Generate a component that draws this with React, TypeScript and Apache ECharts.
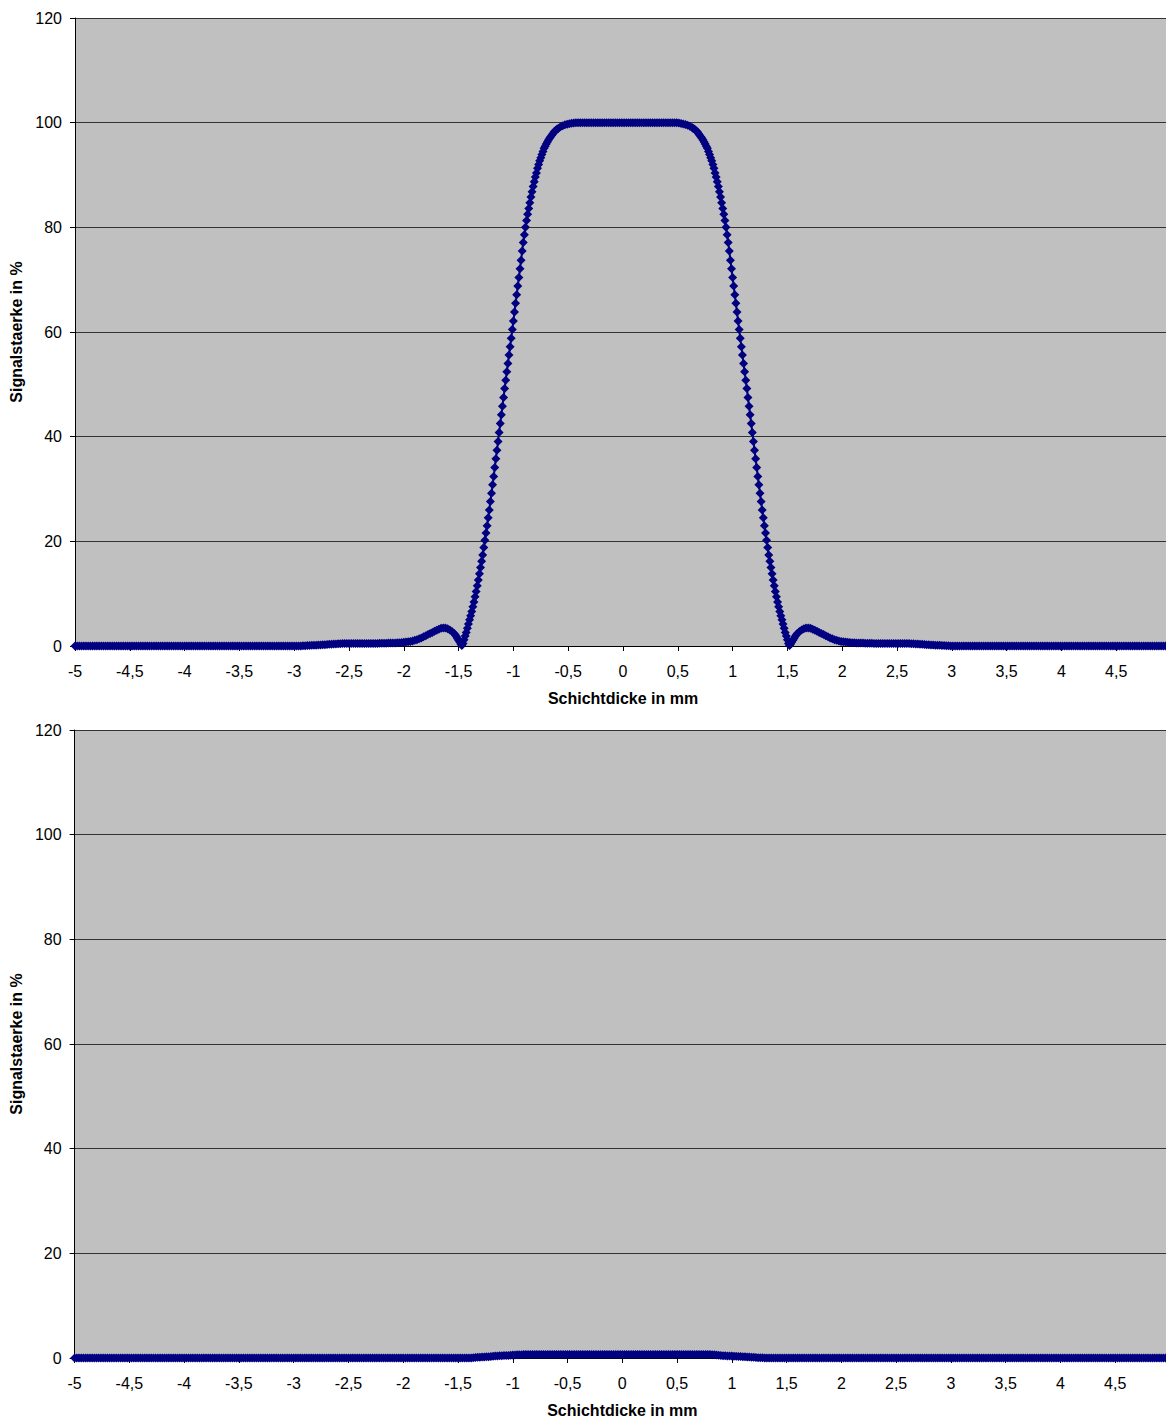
import React, { useEffect, useRef } from "react";
import * as echarts from "echarts";

// ---------- axis settings ----------
const X_MIN = -5;
const X_MAX = 5;
const X_INTERVAL = 0.5;
const Y_MIN = 0;
const Y_MAX = 120;
const Y_INTERVAL = 20;
const X_NAME = "Schichtdicke in mm";
const Y_NAME = "Signalstaerke in %";

// ---------- top chart data (segments: start x, step, values) ----------
// x = -5.00 .. -3.02 (step 0.02)
const topLeftTail = [
  0,0,0,0,0,0,0,0,0,0, 0,0,0,0,0,0,0,0,0,0,
  0,0,0,0,0,0,0,0,0,0, 0,0,0,0,0,0,0,0,0,0,
  0,0,0,0,0,0,0,0,0,0, 0,0,0,0,0,0,0,0,0,0,
  0,0,0,0,0,0,0,0,0,0, 0,0,0,0,0,0,0,0,0,0,
  0,0,0,0,0,0,0,0,0,0, 0,0,0,0,0,0,0,0,0,0,
];
// x = -3.00 .. -1.54 (step 0.02)
const topLeftSide = [
  0,0,0,0.02,0.04,0.06,0.08,0.1,0.12,0.14,
  0.16,0.18,0.2,0.23,0.26,0.29,0.32,0.35,0.38,0.4,
  0.42,0.44,0.46,0.48,0.49,0.5,0.5,0.5,0.5,0.5,
  0.5,0.5,0.5,0.5,0.5,0.5,0.5,0.5,0.5,0.51,
  0.52,0.53,0.54,0.55,0.56,0.57,0.59,0.61,0.63,0.66,
  0.7,0.75,0.81,0.88,0.97,1.08,1.21,1.37,1.55,1.75,
  1.96,2.18,2.4,2.6,2.8,3.0,3.2,3.38,3.46,3.42,
  3.28,3.05,2.75,2.4,
];
// x = -1.53 .. -0.59 (step 0.01)
const topLeftSlope = [
  2.1,1.8,1.45,1.1,0.75,0.4,0.1,0.5,1.2,1.9,
  2.6,3.4,4.2,5.0,5.8,6.6,7.5,8.4,9.4,10.4,
  11.5,12.6,13.8,15.0,16.2,17.4,18.8,20.2,21.6,23.0,
  24.5,26.0,27.6,29.2,30.8,32.4,34.1,35.8,37.4,39.1,
  40.8,42.5,44.2,45.8,47.5,49.2,50.8,52.4,54.0,55.6,
  57.2,58.8,60.5,62.1,63.8,65.5,67.1,68.8,70.4,72.1,
  73.7,75.5,77.1,78.6,80.0,81.3,82.5,83.6,84.7,85.8,
  86.8,87.8,88.7,89.6,90.4,91.3,92.0,92.7,93.3,93.9,
  94.5,95.1,95.5,95.9,96.3,96.7,97.0,97.3,97.6,97.9,
  98.2,98.4,98.6,98.8,98.9,
];
// x = -0.57 .. 0.63 (step 0.02)
const topPlateau = [
  99.2,99.4,99.6,99.7,99.8,99.9,99.95,
  100,100,100,100,100,100,100,100,100,100,
  100,100,100,100,100,100,100,100,100,100,
  100,100,100,100,100,100,100,100,100,100,
  100,100,100,100,100,100,100,100,100,100,
  100,100,100,100,100,100,
  99.97,99.92,99.85,99.75,99.65,99.5,99.3,99.1,
];
// x = 0.64 .. 1.58 (step 0.01)
const topRightSlope = [
  98.9,98.8,98.6,98.4,98.2,
  97.9,97.6,97.3,97.0,96.7,96.3,95.9,95.5,95.1,94.5,
  93.9,93.3,92.7,92.0,91.3,90.4,89.6,88.7,87.8,86.8,
  85.8,84.7,83.6,82.5,81.3,80.0,78.6,77.1,75.5,73.7,
  72.1,70.4,68.8,67.1,65.5,63.8,62.1,60.5,58.8,57.2,
  55.6,54.0,52.4,50.8,49.2,47.5,45.8,44.2,42.5,40.8,
  39.1,37.4,35.8,34.1,32.4,30.8,29.2,27.6,26.0,24.5,
  23.0,21.6,20.2,18.8,17.4,16.2,15.0,13.8,12.6,11.5,
  10.4,9.4,8.4,7.5,6.6,5.8,5.0,4.2,3.4,2.6,
  1.9,1.2,0.5,0.1,0.4,0.75,1.1,1.45,1.8,2.1,
];
// x = 1.59 .. 3.05 (step 0.02)
const topRightSide = [
  2.4,2.75,3.05,3.28,
  3.42,3.46,3.38,3.2,3.0,2.8,2.6,2.4,2.18,1.96,
  1.75,1.55,1.37,1.21,1.08,0.97,0.88,0.81,0.75,0.7,
  0.66,0.63,0.61,0.59,0.57,0.56,0.55,0.54,0.53,0.52,
  0.51,0.5,0.5,0.5,0.5,0.5,0.5,0.5,0.5,0.5,
  0.5,0.5,0.5,0.5,0.5,0.49,0.48,0.46,0.44,0.42,
  0.4,0.38,0.35,0.32,0.29,0.26,0.23,0.2,0.18,0.16,
  0.14,0.12,0.1,0.08,0.06,0.04,0.02,0,0,0,
];
// x = 3.07 .. 4.99 (step 0.02)
const topRightTail = [
  0,0,0,0,0,0,0,0,0,0, 0,0,0,0,0,0,0,0,0,0,
  0,0,0,0,0,0,0,0,0,0, 0,0,0,0,0,0,0,0,0,0,
  0,0,0,0,0,0,0,0,0,0, 0,0,0,0,0,0,0,0,0,0,
  0,0,0,0,0,0,0,0,0,0, 0,0,0,0,0,0,0,0,0,0,
  0,0,0,0,0,0,0,0,0,0, 0,0,0,0,0,0,0,
];

// ---------- bottom chart data ----------
// x = -5.00 .. -1.42 (step 0.02)
const bottomLeftTail = [
  0,0,0,0,0,0,0,0,0,0, 0,0,0,0,0,0,0,0,0,0,
  0,0,0,0,0,0,0,0,0,0, 0,0,0,0,0,0,0,0,0,0,
  0,0,0,0,0,0,0,0,0,0, 0,0,0,0,0,0,0,0,0,0,
  0,0,0,0,0,0,0,0,0,0, 0,0,0,0,0,0,0,0,0,0,
  0,0,0,0,0,0,0,0,0,0, 0,0,0,0,0,0,0,0,0,0,
  0,0,0,0,0,0,0,0,0,0, 0,0,0,0,0,0,0,0,0,0,
  0,0,0,0,0,0,0,0,0,0, 0,0,0,0,0,0,0,0,0,0,
  0,0,0,0,0,0,0,0,0,0, 0,0,0,0,0,0,0,0,0,0,
  0,0,0,0,0,0,0,0,0,0, 0,0,0,0,0,0,0,0,0,0,
];
// x = -1.40 .. 1.40 (step 0.02)
const bottomCenter = [
  0,0.02,0.05,0.08,0.12,0.15,0.18,0.2,0.22,0.25,
  0.28,0.32,0.36,0.4,0.42,0.44,0.46,0.48,0.5,0.53,
  0.55,0.58,0.6,0.62,0.64,0.65,
  0.65,0.65,0.65,0.65,0.65,0.65,0.65,0.65,0.65,0.65,
  0.65,0.65,0.65,0.65,0.65,0.65,0.65,0.65,0.65,0.65,
  0.65,0.65,0.65,0.65,0.65,0.65,0.65,0.65,0.65,0.65,
  0.65,0.65,0.65,0.65,0.65,0.65,0.65,0.65,0.65,0.65,
  0.65,0.65,0.65,0.65,0.65,0.65,0.65,0.65,0.65,0.65,
  0.65,0.65,0.65,0.65,0.65,0.65,0.65,0.65,0.65,0.65,
  0.65,0.65,0.65,0.65,0.65,0.65,0.65,0.65,0.65,0.65,
  0.65,0.65,0.65,0.65,0.65,0.65,0.65,0.65,0.65,0.65,
  0.65,0.65,0.65,0.65,0.65,
  0.64,0.62,0.58,0.53,0.48,0.44,0.42,0.4,0.38,0.36,
  0.34,0.32,0.3,0.28,0.26,0.24,0.21,0.18,0.15,0.12,
  0.09,0.07,0.05,0.03,0.02,0.01,0,0,0,0,
];
// x = 1.42 .. 4.98 (step 0.02)
const bottomRightTail = [
  0,0,0,0,0,0,0,0,0,0, 0,0,0,0,0,0,0,0,0,0,
  0,0,0,0,0,0,0,0,0,0, 0,0,0,0,0,0,0,0,0,0,
  0,0,0,0,0,0,0,0,0,0, 0,0,0,0,0,0,0,0,0,0,
  0,0,0,0,0,0,0,0,0,0, 0,0,0,0,0,0,0,0,0,0,
  0,0,0,0,0,0,0,0,0,0, 0,0,0,0,0,0,0,0,0,0,
  0,0,0,0,0,0,0,0,0,0, 0,0,0,0,0,0,0,0,0,0,
  0,0,0,0,0,0,0,0,0,0, 0,0,0,0,0,0,0,0,0,0,
  0,0,0,0,0,0,0,0,0,0, 0,0,0,0,0,0,0,0,0,0,
  0,0,0,0,0,0,0,0,0,0, 0,0,0,0,0,0,0,0,0,
];

const topSegments: [number, number, number[]][] = [
  [-5.0, 0.02, topLeftTail],
  [-3.0, 0.02, topLeftSide],
  [-1.53, 0.01, topLeftSlope],
  [-0.57, 0.02, topPlateau],
  [0.64, 0.01, topRightSlope],
  [1.59, 0.02, topRightSide],
  [3.07, 0.02, topRightTail],
];
const bottomSegments: [number, number, number[]][] = [
  [-5.0, 0.02, bottomLeftTail],
  [-1.4, 0.02, bottomCenter],
  [1.42, 0.02, bottomRightTail],
];

function buildPoints(segments: [number, number, number[]][]): number[][] {
  const pts: number[][] = [];
  for (const [start, step, values] of segments) {
    values.forEach((v, i) => {
      pts.push([Math.round((start + i * step) * 100) / 100, v]);
    });
  }
  return pts;
}

const NAVY = "#000080";
const FONT = "'Liberation Sans', Arial, Helvetica, sans-serif";

export default function App() {
  const ref = useRef<HTMLDivElement>(null);

  useEffect(() => {
    if (!ref.current) return;
    const chart = echarts.init(ref.current, undefined, { renderer: "svg" });

    const labelStyle = { fontFamily: FONT, fontSize: 16, color: "#000" };
    const nameStyle = { fontFamily: FONT, fontSize: 16, fontWeight: "bold" as const, color: "#000" };

    const makeX = (gridIndex: number) => ({
      type: "value",
      gridIndex,
      min: X_MIN,
      max: X_MAX,
      interval: X_INTERVAL,
      axisLine: { show: true, onZero: false, lineStyle: { color: "#000", width: 1 } },
      axisTick: { show: true, inside: false, length: 5, lineStyle: { color: "#000" } },
      axisLabel: {
        ...labelStyle,
        margin: 17,
        showMaxLabel: false,
        formatter: (v: number) => String(v).replace(".", ","),
      },
      splitLine: { show: false },
      name: X_NAME,
      nameLocation: "middle",
      nameGap: 44,
      nameTextStyle: nameStyle,
    });

    const makeY = (gridIndex: number) => ({
      type: "value",
      gridIndex,
      min: Y_MIN,
      max: Y_MAX,
      interval: Y_INTERVAL,
      axisLine: { show: true, onZero: false, lineStyle: { color: "#000", width: 1 } },
      axisTick: { show: true, inside: false, length: 5, lineStyle: { color: "#000" } },
      axisLabel: { ...labelStyle, margin: 13 },
      splitLine: { show: true, lineStyle: { color: "#333", width: 1 } },
      name: Y_NAME,
      nameLocation: "middle",
      nameRotate: 90,
      nameGap: 50,
      nameTextStyle: nameStyle,
    });

    const makeSeries = (idx: number, data: number[][]) => ({
      type: "line",
      xAxisIndex: idx,
      yAxisIndex: idx,
      data,
      symbol: "diamond",
      symbolSize: 9,
      showSymbol: true,
      showAllSymbol: true,
      clip: false,
      silent: true,
      itemStyle: { color: NAVY, borderWidth: 0 },
      lineStyle: { color: NAVY, width: 2 },
      emphasis: { disabled: true },
    });

    chart.setOption({
      animation: false,
      backgroundColor: "#fff",
      textStyle: { fontFamily: FONT },
      grid: [
        { left: 75, top: 18, width: 1096, height: 628, show: true, backgroundColor: "#C0C0C0", borderWidth: 0 },
        { left: 74, top: 730, width: 1096, height: 628, show: true, backgroundColor: "#C0C0C0", borderWidth: 0 },
      ],
      xAxis: [makeX(0), makeX(1)],
      yAxis: [makeY(0), makeY(1)],
      series: [makeSeries(0, buildPoints(topSegments)), makeSeries(1, buildPoints(bottomSegments))],
    });

    return () => chart.dispose();
  }, []);

  return (
    <div
      style={{
        position: "absolute",
        left: 0,
        top: 0,
        width: 1166,
        height: 1421,
        overflow: "hidden",
        background: "#fff",
      }}
    >
      <div ref={ref} style={{ width: 1200, height: 1421 }} />
    </div>
  );
}
